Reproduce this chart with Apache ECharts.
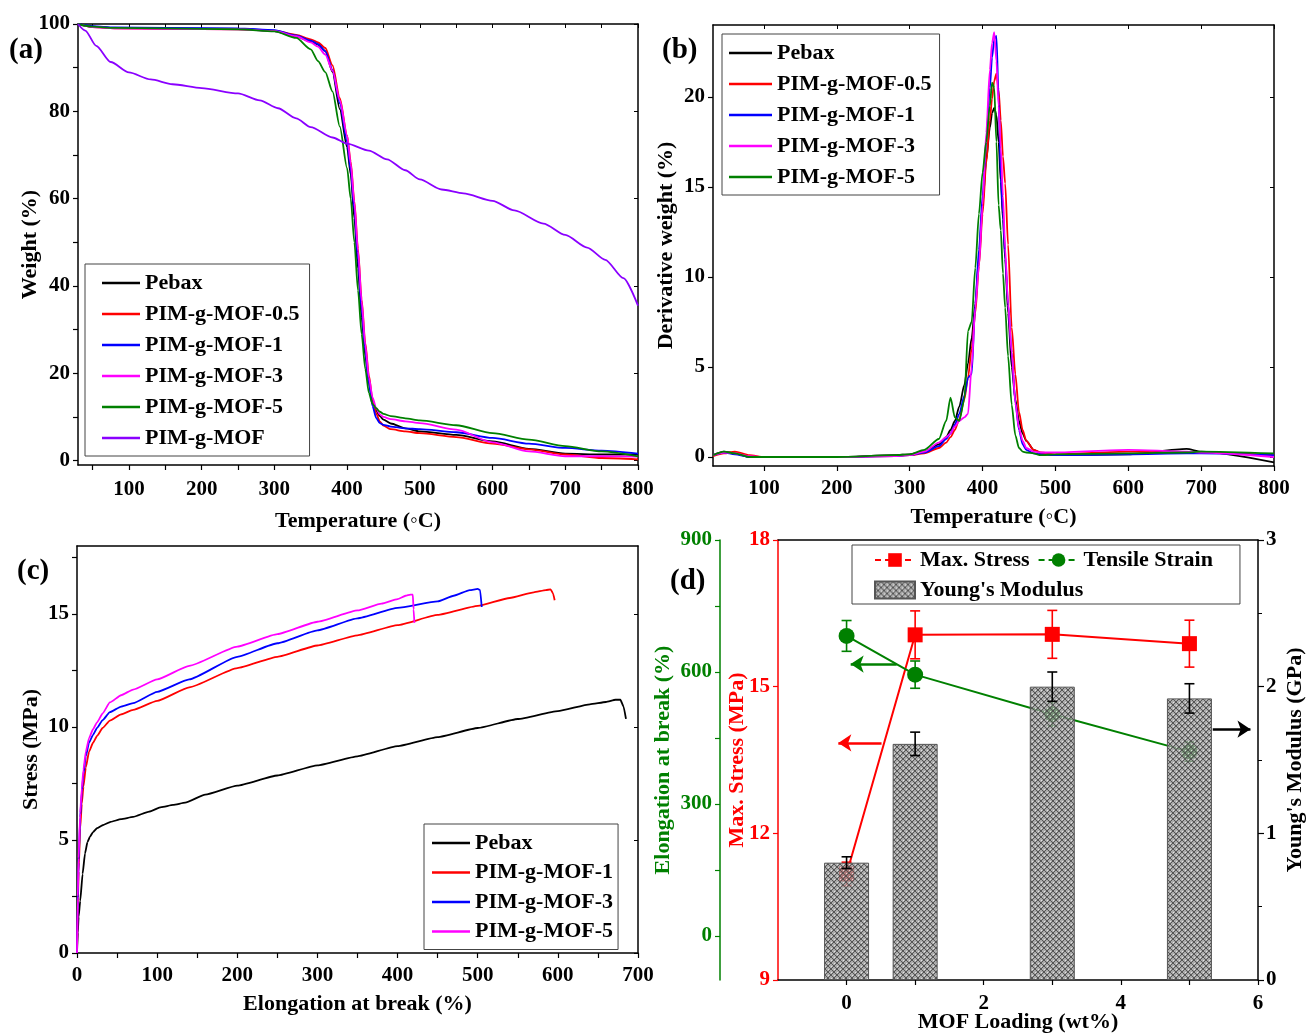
<!DOCTYPE html>
<html>
<head>
<meta charset="utf-8">
<script src="https://cdn.jsdelivr.net/npm/echarts@6/dist/echarts.min.js"></script>
<style>html,body{margin:0;background:#fff}#main{width:1308px;height:1035px}</style>
</head>
<body>
<div id="main"></div>
<script>
// ---- (a) TGA ----
var tgaTemp = [30, 50, 80, 150, 250, 300, 330, 350, 360, 370, 380, 390, 400, 405, 410, 415, 420, 425, 430, 435, 440, 445, 450, 460, 480, 500, 550, 600, 650, 700, 750, 800];
var tgaPebax = [100, 99.4, 99.1, 99.0, 98.9, 98.4, 97.2, 96.0, 95.3, 93.8, 89.0, 80.5, 71.8, 65.5, 55.5, 44, 32.8, 24, 17.8, 13.8, 11.5, 10.2, 9.4, 8.5, 7.4, 6.7, 5.9, 4.4, 2.7, 1.6, 1.4, 1.4];
var tgaMof05 = [100, 99.3, 99.0, 98.9, 98.8, 98.5, 97.5, 96.5, 95.8, 94.5, 90.5, 83, 74.5, 68.5, 59.5, 48.5, 37, 27, 19.5, 14, 10.8, 9.0, 8.0, 7.2, 6.7, 6.3, 5.4, 3.9, 2.6, 1.4, 0.6, 0.3];
var tgaMof1 = [100, 99.5, 99.2, 99.1, 99.0, 98.6, 97.4, 96.2, 95.4, 93.8, 89.5, 81.8, 73, 66.5, 57.5, 46, 34.5, 25, 17.5, 12.5, 9.8, 8.6, 8.2, 7.8, 7.4, 7.2, 6.5, 5.2, 3.9, 2.9, 2.3, 1.6];
var tgaMof3 = [100, 99.3, 99.0, 98.9, 98.8, 98.4, 97.2, 95.8, 94.8, 93.0, 89.3, 82.5, 74.5, 68, 59, 48, 36.5, 26.5, 19, 14.5, 12, 10.6, 10.0, 9.5, 9.0, 8.6, 7.1, 4.2, 2.1, 1.0, 1.0, 0.9];
var tgaMof5 = [100, 99.4, 99.1, 99.0, 98.8, 98.3, 96.8, 94.2, 91.5, 89.0, 84.5, 76.5, 67, 60, 50, 39, 29, 21, 15.5, 13, 12, 11.2, 10.7, 10.2, 9.7, 9.2, 8.1, 6.3, 4.8, 3.3, 2.1, 1.0];
var mofTemp = [30, 40, 55, 75, 100, 130, 160, 200, 250, 280, 305, 330, 350, 380, 400, 430, 455, 480, 500, 530, 560, 600, 630, 670, 700, 730, 755, 780, 800];
var mofWeight = [100, 98.5, 95, 91.3, 88.9, 87.3, 86.2, 85.3, 84.1, 82.5, 80.7, 78.4, 76.4, 74.0, 72.6, 71.0, 69.0, 66.5, 64.4, 62.1, 61.2, 59.5, 57.3, 54.3, 51.7, 48.8, 46.0, 41.8, 35.5];

// ---- (b) DTG ----
var dtgTemp = [30, 45, 60, 80, 100, 200, 280, 300, 320, 340, 350, 356, 362, 368, 375, 380, 385, 390, 395, 400, 405, 410, 413, 416, 419, 422, 425, 428, 431, 435, 440, 445, 450, 455, 460, 470, 480, 500, 600, 680, 700, 800];
var dtgPebax = [0.1, 0.3, 0.2, 0.0, 0, 0, 0.1, 0.15, 0.3, 0.7, 1.1, 1.5, 2.0, 2.8, 4.0, 5.2, 6.6, 8.5, 11, 14, 16.5, 18.3, 19.1, 19.4, 19.0, 17.5, 15.3, 13.2, 11, 8, 5, 3.2, 2.0, 1.3, 0.9, 0.4, 0.2, 0.1, 0.15, 0.45, 0.3, -0.3];
var dtgMof05 = [0.05, 0.2, 0.3, 0.1, 0, 0, 0.05, 0.1, 0.2, 0.5, 0.8, 1.1, 1.5, 2.1, 3.2, 4.4, 6.0, 8.0, 10.6, 13.5, 16.3, 18.7, 19.9, 20.9, 21.3, 20.4, 18.7, 16.7, 15.2, 11.8, 7.2, 4.6, 2.5, 1.5, 0.9, 0.4, 0.25, 0.15, 0.3, 0.25, 0.25, 0.1];
var dtgMof1 = [0.1, 0.25, 0.15, 0, 0, 0, 0.05, 0.1, 0.25, 0.6, 1.0, 1.3, 1.8, 2.4, 3.4, 4.4, 4.6, 8.5, 11.5, 14.5, 17.5, 20.5, 22.2, 23.2, 23.4, 20, 15.5, 13.6, 11.2, 8.5, 5.8, 3.0, 1.5, 0.7, 0.4, 0.2, 0.15, 0.1, 0.15, 0.2, 0.2, 0.1];
var dtgMof3 = [0.1, 0.25, 0.2, 0.05, 0, 0, 0.05, 0.1, 0.3, 0.8, 1.1, 1.3, 1.7, 2.0, 2.2, 2.4, 5.0, 8.3, 10.6, 14, 18, 21.5, 23, 23.6, 22, 19.5, 17.2, 14.5, 11.6, 8.5, 5.8, 3.0, 1.6, 0.9, 0.5, 0.3, 0.25, 0.25, 0.4, 0.3, 0.25, 0];
var dtgMof5 = [0.1, 0.3, 0.2, 0, 0, 0, 0.1, 0.15, 0.4, 1.0, 2.0, 3.3, 2.2, 2.0, 3.2, 7.0, 7.5, 10.5, 13.5, 15.8, 17.5, 19.5, 20.8, 20.5, 17.5, 14, 12.6, 10.2, 8.3, 5.6, 2.9, 1.2, 0.5, 0.3, 0.25, 0.2, 0.1, 0.15, 0.2, 0.25, 0.3, 0.2];

// ---- (c) stress-strain ----
var ssPebaxE = [0, 1, 2, 4, 7, 10, 13, 16, 20, 25, 32, 42, 55, 70, 90, 105, 120, 135, 160, 200, 250, 300, 350, 400, 450, 500, 550, 600, 640, 660, 672, 678, 682, 685];
var ssPebaxS = [0, 0.9, 1.6, 2.3, 3.5, 4.4, 4.9, 5.13, 5.35, 5.52, 5.65, 5.8, 5.92, 6.02, 6.25, 6.45, 6.55, 6.65, 7.0, 7.4, 7.85, 8.3, 8.7, 9.15, 9.55, 9.95, 10.35, 10.7, 11.0, 11.1, 11.2, 11.2, 10.9, 10.35];
var ssMof1E = [0, 1, 2, 4, 6, 8, 11, 15, 20, 25, 32, 41, 55, 70, 100, 140, 200, 250, 300, 350, 400, 450, 500, 540, 570, 585, 591, 594, 596];
var ssMof1S = [0, 2.0, 3.6, 5.5, 6.6, 7.35, 8.2, 8.9, 9.3, 9.6, 9.95, 10.28, 10.55, 10.75, 11.15, 11.75, 12.6, 13.1, 13.6, 14.05, 14.5, 14.95, 15.35, 15.7, 15.95, 16.05, 16.08, 15.9, 15.6];
var ssMof3E = [0, 1, 2, 4, 6, 8, 11, 15, 20, 25, 32, 41, 55, 70, 100, 140, 200, 250, 300, 350, 400, 450, 470, 490, 500, 503, 505];
var ssMof3S = [0, 2.3, 4.0, 6.0, 7.1, 7.9, 8.7, 9.3, 9.65, 9.95, 10.3, 10.65, 10.9, 11.05, 11.55, 12.1, 13.1, 13.7, 14.27, 14.8, 15.26, 15.55, 15.8, 16.05, 16.1, 16.05, 15.3];
var ssMof5E = [0, 1, 2, 4, 6, 8, 11, 15, 20, 25, 32, 41, 55, 70, 100, 140, 200, 250, 300, 350, 380, 400, 410, 416, 419, 420, 421];
var ssMof5S = [0, 2.5, 4.2, 6.2, 7.3, 8.1, 8.9, 9.5, 9.9, 10.2, 10.6, 11.08, 11.4, 11.65, 12.1, 12.7, 13.55, 14.1, 14.65, 15.15, 15.45, 15.65, 15.8, 15.85, 15.85, 15.2, 14.6];

// ---- (d) mechanical summary ----
var loading = [0, 1, 3, 5];
var maxStress = [11.17, 16.06, 16.07, 15.88];
var maxStressErr = [0.24, 0.49, 0.49, 0.48];
var tensileStrain = [682, 594, 504, 419];
var tensileStrainErr = [35, 31, 27, 22];
var youngModulus = [0.80, 1.61, 2.0, 1.92];
var youngModulusErr = [0.04, 0.08, 0.10, 0.10];
var stressArrow = [[0.51, 13.85], [-0.12, 13.85]];
var strainArrow = [[0.73, 618], [0.06, 618]];
var modulusArrow = [[5.34, 1.71], [5.89, 1.71]];

var FONT = '"Liberation Serif", "Times New Roman", serif';

function pairs(xs, ys) {
    return xs.map(function (x, i) { return [x, ys[i]]; });
}
function triples(xs, ys, es) {
    return xs.map(function (x, i) { return [x, ys[i], es[i]]; });
}
function txt(size, color) {
    return {fontFamily: FONT, fontWeight: 'bold', fontSize: size, color: color || '#000'};
}

function hatchPattern() {
    var c = document.createElement('canvas');
    c.width = 6; c.height = 6;
    var g = c.getContext('2d');
    g.fillStyle = 'rgba(150,150,150,0.8)';
    g.fillRect(0, 0, 6, 6);
    g.strokeStyle = 'rgba(75,75,75,0.9)';
    g.lineWidth = 1;
    g.beginPath();
    g.moveTo(0, 0); g.lineTo(6, 6);
    g.moveTo(6, 0); g.lineTo(0, 6);
    g.stroke();
    g.fillStyle = 'rgba(235,235,235,0.85)';
    g.fillRect(3, 0, 1, 1);
    g.fillRect(0, 3, 1, 1);
    return c;
}

function errorBar(params, api) {
    var x = api.value(0), y = api.value(1), e = api.value(2);
    var hi = api.coord([x, y + e]);
    var lo = api.coord([x, y - e]);
    var w = 5;
    var style = {stroke: api.visual('color'), lineWidth: 1.6};
    return {
        type: 'group',
        children: [
            {type: 'line', shape: {x1: hi[0], y1: hi[1], x2: lo[0], y2: lo[1]}, style: style},
            {type: 'line', shape: {x1: hi[0] - w, y1: hi[1], x2: hi[0] + w, y2: hi[1]}, style: style},
            {type: 'line', shape: {x1: lo[0] - w, y1: lo[1], x2: lo[0] + w, y2: lo[1]}, style: style}
        ]
    };
}

// bottom / left axis with labels
function mainX(grid, min, max, labels, ticks, name, nameGap, labelMargin) {
    return {
        type: 'value', gridIndex: grid, min: min, max: max,
        axisLine: {onZero: false, lineStyle: {color: '#000', width: 1.5}},
        axisTick: {customValues: ticks, length: 5, lineStyle: {color: '#000', width: 1.2}},
        axisLabel: {customValues: labels, margin: labelMargin, fontFamily: FONT, fontWeight: 'bold', fontSize: 21, color: '#000'},
        splitLine: {show: false},
        name: name, nameLocation: 'middle', nameGap: nameGap, nameMoveOverlap: false, nameTextStyle: txt(22)
    };
}
function mainY(grid, min, max, labels, ticks, name, nameGap) {
    return {
        type: 'value', gridIndex: grid, min: min, max: max,
        axisLine: {onZero: false, lineStyle: {color: '#000', width: 1.5}},
        axisTick: {customValues: ticks, length: 5, lineStyle: {color: '#000', width: 1.2}},
        axisLabel: {customValues: labels, margin: 8, fontFamily: FONT, fontWeight: 'bold', fontSize: 21, color: '#000'},
        splitLine: {show: false},
        name: name, nameLocation: 'middle', nameRotate: 90, nameGap: nameGap, nameMoveOverlap: false, nameTextStyle: txt(22)
    };
}
// mirrored frame axes
function frameX(grid, min, max, ticks) {
    return {
        type: 'value', gridIndex: grid, position: 'top', min: min, max: max,
        axisLine: {onZero: false, lineStyle: {color: '#000', width: 1.5}},
        axisTick: {show: !!ticks, customValues: ticks, inside: true, length: 4, lineStyle: {color: '#000'}},
        axisLabel: {show: false}, splitLine: {show: false}
    };
}
function frameY(grid, min, max, ticks) {
    return {
        type: 'value', gridIndex: grid, position: 'right', min: min, max: max,
        axisLine: {onZero: false, lineStyle: {color: '#000', width: 1.5}},
        axisTick: {show: !!ticks, customValues: ticks, inside: true, length: 4, lineStyle: {color: '#000'}},
        axisLabel: {show: false}, splitLine: {show: false}
    };
}

function lineSeries(name, data, color, xi, yi) {
    return {
        name: name, type: 'line', xAxisIndex: xi, yAxisIndex: yi, data: data,
        symbol: 'none', smooth: 0.25, smoothMonotone: 'x',
        lineStyle: {color: color, width: 1.8}, itemStyle: {color: color}, z: 2
    };
}
function rawLine(name, data, color, xi, yi) {
    return {
        name: name, type: 'line', xAxisIndex: xi, yAxisIndex: yi, data: data,
        symbol: 'none', smooth: 0.15, smoothMonotone: 'x',
        lineStyle: {color: color, width: 1.8}, itemStyle: {color: color}, z: 2
    };
}

function legendBox(names, left, top, gap, padding, itemWidth) {
    return {
        data: names, orient: 'vertical', left: left, top: top, itemGap: gap,
        icon: 'rect', itemWidth: itemWidth, itemHeight: 2.5, padding: padding,
        borderColor: '#444', borderWidth: 1, selectedMode: false,
        textStyle: {fontFamily: FONT, fontWeight: 'bold', fontSize: 22, color: '#000', lineHeight: 22},
        formatter: function (n) { return n.split('#')[0]; }
    };
}

var tempLabels = [100, 200, 300, 400, 500, 600, 700, 800];
var tempTicks = [50, 100, 150, 200, 250, 300, 350, 400, 450, 500, 550, 600, 650, 700, 750, 800];

var hatch = hatchPattern();

var option = {
    animation: false,
    backgroundColor: '#fff',
    grid: [
        {left: 78, top: 24, right: 670, bottom: 570, outerBoundsMode: 'none'},
        {left: 713, top: 25, right: 34, bottom: 569, outerBoundsMode: 'none'},
        {left: 77, top: 546, right: 670, bottom: 82, outerBoundsMode: 'none'},
        {left: 778, top: 540, right: 50, bottom: 55, outerBoundsMode: 'none'}
    ],
    xAxis: [
        mainX(0, 30, 800, tempLabels, tempTicks, 'Temperature (\u25E6C)', 45, 14),
        frameX(0, 30, 800, tempTicks),
        mainX(1, 30, 800, tempLabels, tempLabels, 'Temperature (\u25E6C)', 40, 12),
        frameX(1, 30, 800, tempLabels),
        mainX(2, 0, 700, [0, 100, 200, 300, 400, 500, 600, 700], [0, 50, 100, 150, 200, 250, 300, 350, 400, 450, 500, 550, 600, 650, 700], 'Elongation at break (%)', 40, 12),
        frameX(2, 0, 700, null),
        mainX(3, -1, 6, [0, 2, 4, 6], [0, 1, 2, 3, 4, 5, 6], 'MOF Loading (wt%)', 31, 13),
        frameX(3, -1, 6, null)
    ],
    yAxis: [
        mainY(0, -1, 100, [0, 20, 40, 60, 80, 100], [0, 10, 20, 30, 40, 50, 60, 70, 80, 90, 100], 'Weight (%)', 37),
        frameY(0, -1, 100, [0, 20, 40, 60, 80, 100]),
        mainY(1, -0.5, 24, [0, 5, 10, 15, 20], [0, 5, 10, 15, 20], 'Derivative weight (%)', 36),
        frameY(1, -0.5, 24, [0, 5, 10, 15, 20]),
        mainY(2, 0, 18, [0, 5, 10, 15], [0, 2.5, 5, 7.5, 10, 12.5, 15, 17.5], 'Stress (MPa)', 35),
        frameY(2, 0, 18, [0, 5, 10, 15]),
        {
            type: 'value', gridIndex: 3, position: 'left', min: 9, max: 18, interval: 3,
            axisLine: {onZero: false, lineStyle: {color: '#ff0000', width: 1.5}},
            axisTick: {length: 5, lineStyle: {color: '#ff0000', width: 1.2}},
            axisLabel: {margin: 8, fontFamily: FONT, fontWeight: 'bold', fontSize: 21, color: '#ff0000'},
            splitLine: {show: false},
            name: 'Max. Stress (MPa)', nameLocation: 'middle', nameRotate: 90, nameGap: 30, nameMoveOverlap: false,
            nameTextStyle: txt(22, '#ff0000')
        },
        {
            type: 'value', gridIndex: 3, position: 'left', offset: 58, min: -100, max: 900,
            axisLine: {show: true, onZero: false, lineStyle: {color: '#008000', width: 1.5}},
            axisTick: {customValues: [0, 150, 300, 450, 600, 750, 900], length: 5, lineStyle: {color: '#008000', width: 1.2}},
            axisLabel: {customValues: [0, 300, 600, 900], margin: 8, fontFamily: FONT, fontWeight: 'bold', fontSize: 21, color: '#008000'},
            splitLine: {show: false},
            name: 'Elongation at break (%)', nameLocation: 'middle', nameRotate: 90, nameGap: 46, nameMoveOverlap: false,
            nameTextStyle: txt(22, '#008000')
        },
        {
            type: 'value', gridIndex: 3, position: 'right', min: 0, max: 3, interval: 1,
            axisLine: {onZero: false, lineStyle: {color: '#000', width: 1.5}},
            axisTick: {length: 6, lineStyle: {color: '#000', width: 1.2}},
            minorTick: {show: true, splitNumber: 2, length: 4, lineStyle: {color: '#000'}},
            axisLabel: {margin: 8, fontFamily: FONT, fontWeight: 'bold', fontSize: 21, color: '#000'},
            splitLine: {show: false},
            name: "Young's Modulus (GPa)", nameLocation: 'middle', nameRotate: 90, nameGap: 26, nameMoveOverlap: false,
            nameTextStyle: txt(22)
        }
    ],
    legend: [
        legendBox(['Pebax#a', 'PIM-g-MOF-0.5#a', 'PIM-g-MOF-1#a', 'PIM-g-MOF-3#a', 'PIM-g-MOF-5#a', 'PIM-g-MOF#a'], 85, 264, 9, [8, 10, 7, 17], 38),
        legendBox(['Pebax#b', 'PIM-g-MOF-0.5#b', 'PIM-g-MOF-1#b', 'PIM-g-MOF-3#b', 'PIM-g-MOF-5#b'], 722, 34, 9, [8, 8, 7, 7], 43),
        legendBox(['Pebax#c', 'PIM-g-MOF-1#c', 'PIM-g-MOF-3#c', 'PIM-g-MOF-5#c'], 424, 824, 7.5, [8, 5, 7, 8], 38),
        {
            data: [
                {name: 'Max. Stress', lineStyle: {type: [6, 4]}},
                {name: 'Tensile Strain', lineStyle: {type: [6, 4]}},
                {name: "Young's Modulus", icon: 'rect'}
            ],
            left: 852, top: 545, width: 352, itemGap: 8, itemWidth: 40, itemHeight: 17,
            padding: [4, 27, 3, 22], borderColor: '#444', borderWidth: 1, selectedMode: false,
            textStyle: {fontFamily: FONT, fontWeight: 'bold', fontSize: 22, color: '#000', lineHeight: 22}
        }
    ],
    graphic: [
        {type: 'text', left: 9, top: 36, style: {text: '(a)', font: 'bold 29px ' + FONT, fill: '#000'}},
        {type: 'text', left: 662, top: 36, style: {text: '(b)', font: 'bold 29px ' + FONT, fill: '#000'}},
        {type: 'text', left: 17, top: 557, style: {text: '(c)', font: 'bold 29px ' + FONT, fill: '#000'}},
        {type: 'text', left: 670, top: 567, style: {text: '(d)', font: 'bold 29px ' + FONT, fill: '#000'}}
    ],
    series: [
        lineSeries('Pebax#a', pairs(tgaTemp, tgaPebax), '#000000', 0, 0),
        lineSeries('PIM-g-MOF-0.5#a', pairs(tgaTemp, tgaMof05), '#ff0000', 0, 0),
        lineSeries('PIM-g-MOF-1#a', pairs(tgaTemp, tgaMof1), '#0000ff', 0, 0),
        lineSeries('PIM-g-MOF-3#a', pairs(tgaTemp, tgaMof3), '#ff00ff', 0, 0),
        lineSeries('PIM-g-MOF-5#a', pairs(tgaTemp, tgaMof5), '#008000', 0, 0),
        lineSeries('PIM-g-MOF#a', pairs(mofTemp, mofWeight), '#8a00ff', 0, 0),

        lineSeries('Pebax#b', pairs(dtgTemp, dtgPebax), '#000000', 2, 2),
        lineSeries('PIM-g-MOF-0.5#b', pairs(dtgTemp, dtgMof05), '#ff0000', 2, 2),
        lineSeries('PIM-g-MOF-1#b', pairs(dtgTemp, dtgMof1), '#0000ff', 2, 2),
        lineSeries('PIM-g-MOF-3#b', pairs(dtgTemp, dtgMof3), '#ff00ff', 2, 2),
        lineSeries('PIM-g-MOF-5#b', pairs(dtgTemp, dtgMof5), '#008000', 2, 2),

        rawLine('Pebax#c', pairs(ssPebaxE, ssPebaxS), '#000000', 4, 4),
        rawLine('PIM-g-MOF-1#c', pairs(ssMof1E, ssMof1S), '#ff0000', 4, 4),
        rawLine('PIM-g-MOF-3#c', pairs(ssMof3E, ssMof3S), '#0000ff', 4, 4),
        rawLine('PIM-g-MOF-5#c', pairs(ssMof5E, ssMof5S), '#ff00ff', 4, 4),

        {
            name: 'Max. Stress', type: 'line', xAxisIndex: 6, yAxisIndex: 6,
            data: pairs(loading, maxStress), symbol: 'rect', symbolSize: 15,
            lineStyle: {color: '#ff0000', width: 2}, itemStyle: {color: '#ff0000'}, z: 2,
            markLine: {
                silent: true, symbol: ['none', 'arrow'], symbolSize: 13,
                lineStyle: {color: '#ff0000', width: 2.5, type: 'solid'}, label: {show: false},
                data: [[{coord: stressArrow[0]}, {coord: stressArrow[1]}]]
            }
        },
        {
            name: 'Tensile Strain', type: 'line', xAxisIndex: 6, yAxisIndex: 7,
            data: pairs(loading, tensileStrain), symbol: 'circle', symbolSize: 16,
            lineStyle: {color: '#008000', width: 2}, itemStyle: {color: '#008000'}, z: 2,
            markLine: {
                silent: true, symbol: ['none', 'arrow'], symbolSize: 13,
                lineStyle: {color: '#008000', width: 2.5, type: 'solid'}, label: {show: false},
                data: [[{coord: strainArrow[0]}, {coord: strainArrow[1]}]]
            }
        },
        {
            name: 'stress-err', type: 'custom', xAxisIndex: 6, yAxisIndex: 6,
            data: triples(loading, maxStress, maxStressErr), renderItem: errorBar,
            itemStyle: {color: '#ff0000'}, encode: {x: 0, y: 1}, z: 2
        },
        {
            name: 'strain-err', type: 'custom', xAxisIndex: 6, yAxisIndex: 7,
            data: triples(loading, tensileStrain, tensileStrainErr), renderItem: errorBar,
            itemStyle: {color: '#008000'}, encode: {x: 0, y: 1}, z: 2
        },
        {
            name: "Young's Modulus", type: 'bar', xAxisIndex: 6, yAxisIndex: 8,
            data: pairs(loading, youngModulus), barWidth: 45,
            itemStyle: {color: {image: hatch, repeat: 'repeat'}, borderColor: '#555', borderWidth: 1},
            z: 3,
            markLine: {
                silent: true, symbol: ['none', 'arrow'], symbolSize: 13,
                lineStyle: {color: '#000', width: 2.5, type: 'solid'}, label: {show: false},
                data: [[{coord: modulusArrow[0]}, {coord: modulusArrow[1]}]]
            }
        },
        {
            name: 'modulus-err', type: 'custom', xAxisIndex: 6, yAxisIndex: 8,
            data: triples(loading, youngModulus, youngModulusErr), renderItem: errorBar,
            itemStyle: {color: '#000'}, encode: {x: 0, y: 1}, z: 4
        }
    ]
};

var myChart = echarts.init(document.getElementById('main'));
myChart.setOption(option);
</script>
</body>
</html>
